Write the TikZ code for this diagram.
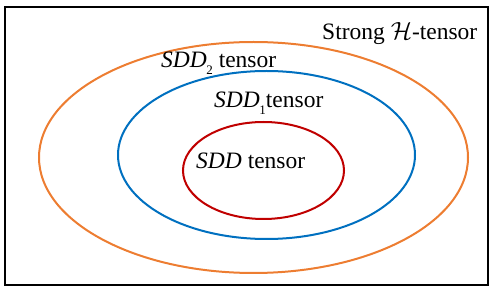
\documentclass[tikz,border=0pt]{standalone}
\usepackage{fontspec}
\setmainfont{Liberation Serif}
\definecolor{orng}{RGB}{237,125,49}
\definecolor{blu}{RGB}{0,112,192}
\definecolor{rd}{RGB}{192,0,0}
\newcommand{\lowsub}[1]{\kern-0.5pt\raisebox{-0.28em}{\fontsize{13}{13}\selectfont #1}}
\begin{document}
\begin{tikzpicture}[x=1pt,y=-1pt,
  lbl/.style={font=\fontsize{23.5}{26}\selectfont,inner sep=0pt,anchor=base west},
  ring/.style={line width=2pt}]
\useasboundingbox (0,0) rectangle (493,291);
\draw[line width=2pt] (5,7) rectangle (488,285);
\draw[ring,orng] (253.5,157.5) ellipse [x radius=214.5,y radius=115.5];
\draw[ring,blu] (266.5,155) ellipse [x radius=148.5,y radius=84];
\draw[ring,rd] (263.5,170.5) ellipse [x radius=80.5,y radius=48.5];
\node[lbl] (strong) at (322,40) {Strong $\mathcal{H}$-tensor};
\node[lbl] (sdd2) at (161,68) {\textit{SDD}\lowsub{2} tensor};
\node[lbl] (sdd1) at (214,108) {\textit{SDD}\lowsub{1}tensor};
\node[lbl] (sdd) at (196,169) {\textit{SDD} tensor};
\end{tikzpicture}
\end{document}
